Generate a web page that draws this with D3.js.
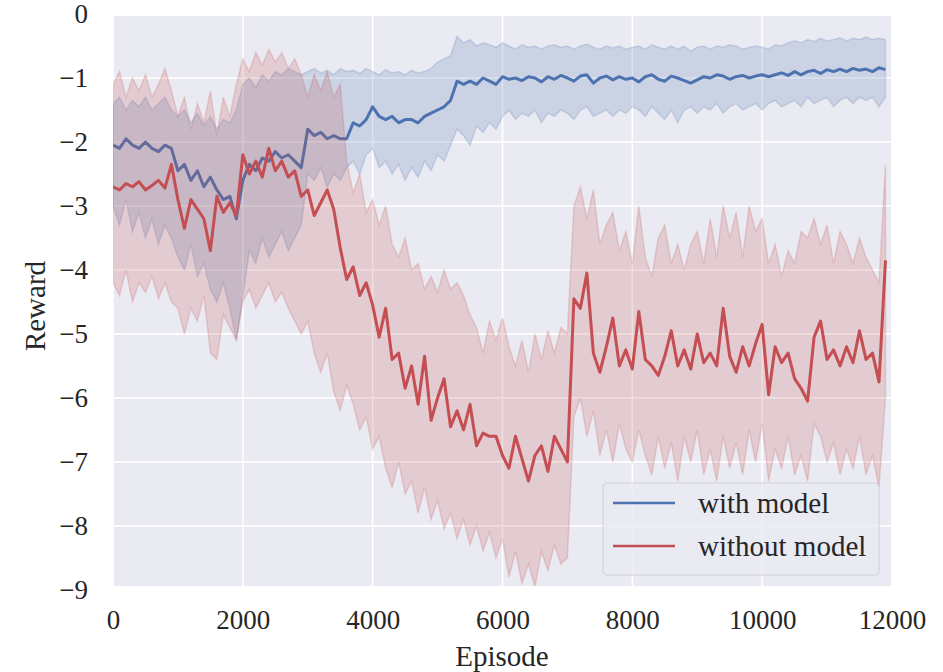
<!DOCTYPE html>
<html><head><meta charset="utf-8">
<script src="https://cdn.jsdelivr.net/npm/d3@7"></script>
<style>body{margin:0;background:#fff}svg{display:block}text{font-family:"Liberation Serif","Times New Roman",serif;fill:#262626}</style>
</head><body>
<svg id="c" width="943" height="672"></svg>
<script>
// Episodes sampled every 100
const episodes = d3.range(0, 12000, 100);
const xTicks = [0, 2000, 4000, 6000, 8000, 10000, 12000];
const yTicks = [0, -1, -2, -3, -4, -5, -6, -7, -8, -9];
const seriesNames = ["with model", "without model"];

const withMean = [-2.05,-2.1,-1.95,-2.05,-2.1,-2.0,-2.1,-2.15,-2.05,-2.1,-2.45,-2.35,-2.6,-2.45,-2.7,-2.55,-2.75,-2.9,-2.85,-3.2,-2.6,-2.35,-2.45,-2.25,-2.3,-2.15,-2.25,-2.2,-2.3,-2.4,-1.8,-1.9,-1.85,-1.95,-1.9,-1.95,-1.95,-1.7,-1.75,-1.65,-1.45,-1.6,-1.65,-1.6,-1.7,-1.65,-1.65,-1.7,-1.6,-1.55,-1.5,-1.45,-1.35,-1.05,-1.1,-1.05,-1.1,-1.0,-1.05,-1.1,-0.98,-1.02,-1.0,-1.04,-0.98,-1.0,-1.06,-0.98,-1.02,-0.96,-1.0,-1.05,-0.97,-0.95,-1.08,-1.0,-0.97,-1.03,-0.98,-1.02,-1.0,-1.06,-0.98,-0.95,-1.02,-1.05,-0.97,-1.0,-1.04,-1.08,-1.03,-0.98,-1.0,-0.95,-0.97,-1.02,-0.98,-0.96,-1.0,-0.97,-0.95,-0.98,-0.95,-0.92,-0.96,-0.9,-0.95,-0.9,-0.88,-0.93,-0.87,-0.9,-0.86,-0.9,-0.85,-0.88,-0.86,-0.9,-0.84,-0.87];
const withUpper = [-1.4,-1.3,-1.5,-1.35,-1.45,-1.3,-1.5,-1.4,-1.3,-1.5,-1.6,-1.5,-1.7,-1.55,-1.75,-1.6,-1.8,-1.65,-1.7,-1.5,-1.1,-1.0,-1.15,-0.95,-1.05,-0.9,-0.95,-0.85,-0.9,-0.95,-0.9,-0.85,-0.92,-0.88,-0.95,-0.85,-0.9,-0.88,-0.93,-0.85,-0.9,-0.95,-0.87,-0.92,-0.9,-0.95,-0.88,-0.92,-0.9,-0.85,-0.75,-0.7,-0.65,-0.35,-0.45,-0.4,-0.5,-0.45,-0.48,-0.52,-0.45,-0.5,-0.55,-0.48,-0.52,-0.5,-0.55,-0.5,-0.48,-0.52,-0.5,-0.55,-0.5,-0.47,-0.52,-0.55,-0.5,-0.53,-0.5,-0.55,-0.52,-0.5,-0.55,-0.48,-0.52,-0.55,-0.5,-0.55,-0.5,-0.58,-0.52,-0.5,-0.55,-0.5,-0.52,-0.48,-0.5,-0.55,-0.52,-0.5,-0.52,-0.55,-0.48,-0.5,-0.45,-0.42,-0.45,-0.4,-0.43,-0.38,-0.42,-0.4,-0.37,-0.42,-0.38,-0.4,-0.36,-0.4,-0.38,-0.4];
const withLower = [-3.0,-3.3,-2.9,-3.4,-3.1,-3.5,-3.2,-3.6,-3.3,-3.5,-3.8,-4.0,-3.6,-4.1,-3.9,-4.3,-4.5,-4.2,-4.6,-5.1,-4.4,-3.7,-3.9,-3.5,-3.8,-3.6,-3.4,-3.7,-3.5,-3.3,-2.5,-2.6,-2.4,-2.7,-2.5,-2.6,-2.4,-2.3,-2.5,-2.2,-2.1,-2.4,-2.3,-2.5,-2.35,-2.6,-2.4,-2.55,-2.3,-2.45,-2.2,-2.3,-2.05,-1.8,-1.9,-2.05,-1.75,-1.85,-1.7,-1.8,-1.6,-1.5,-1.65,-1.55,-1.6,-1.5,-1.7,-1.55,-1.6,-1.5,-1.55,-1.65,-1.5,-1.45,-1.6,-1.55,-1.5,-1.6,-1.5,-1.55,-1.45,-1.5,-1.6,-1.45,-1.55,-1.65,-1.5,-1.7,-1.5,-1.45,-1.55,-1.45,-1.5,-1.4,-1.55,-1.45,-1.4,-1.5,-1.45,-1.4,-1.5,-1.4,-1.35,-1.45,-1.4,-1.35,-1.45,-1.3,-1.4,-1.35,-1.3,-1.45,-1.35,-1.3,-1.4,-1.3,-1.35,-1.3,-1.45,-1.3];

const withoutMean = [-2.7,-2.75,-2.65,-2.7,-2.62,-2.75,-2.68,-2.6,-2.72,-2.35,-2.9,-3.35,-2.9,-3.05,-3.2,-3.7,-2.85,-3.1,-2.95,-3.15,-2.2,-2.5,-2.3,-2.55,-2.1,-2.45,-2.3,-2.55,-2.45,-2.85,-2.75,-3.15,-2.95,-2.75,-3.05,-3.65,-4.15,-3.95,-4.4,-4.2,-4.55,-5.05,-4.6,-5.4,-5.3,-5.85,-5.5,-6.1,-5.35,-6.35,-6.0,-5.7,-6.45,-6.2,-6.5,-6.1,-6.75,-6.55,-6.6,-6.6,-6.9,-7.1,-6.6,-6.95,-7.3,-6.9,-6.75,-7.15,-6.6,-6.8,-7.0,-4.45,-4.6,-4.05,-5.3,-5.6,-5.2,-4.75,-5.5,-5.25,-5.55,-4.65,-5.4,-5.5,-5.65,-5.35,-4.95,-5.5,-5.25,-5.55,-5.0,-5.45,-5.3,-5.5,-4.6,-5.35,-5.6,-5.2,-5.5,-5.15,-4.85,-5.95,-5.2,-5.45,-5.3,-5.7,-5.85,-6.05,-5.05,-4.8,-5.4,-5.25,-5.5,-5.2,-5.45,-4.95,-5.4,-5.3,-5.75,-3.85];
const withoutUpper = [-1.1,-0.9,-1.3,-1.0,-1.2,-0.95,-1.3,-1.1,-0.85,-1.2,-1.6,-1.3,-1.8,-1.4,-1.7,-1.2,-1.9,-1.3,-1.6,-1.1,-0.7,-0.9,-0.6,-0.8,-0.55,-0.75,-0.6,-0.85,-0.7,-0.95,-1.3,-0.95,-1.2,-0.9,-1.3,-1.1,-2.3,-2.8,-2.5,-3.1,-2.9,-3.3,-3.0,-3.6,-3.8,-3.5,-4.0,-3.9,-4.3,-4.1,-4.35,-4.0,-4.3,-4.2,-4.4,-4.7,-4.9,-5.3,-4.8,-5.1,-4.75,-5.2,-5.5,-5.1,-5.6,-5.0,-5.4,-4.95,-5.3,-4.9,-5.0,-3.0,-2.7,-3.2,-2.75,-3.6,-3.3,-3.1,-3.7,-3.4,-3.9,-3.0,-3.8,-4.1,-3.5,-3.3,-3.9,-3.6,-4.0,-3.6,-3.4,-3.9,-3.2,-3.8,-3.0,-3.5,-3.1,-3.8,-3.0,-3.4,-3.2,-3.9,-3.6,-4.1,-3.7,-3.9,-3.4,-3.5,-3.2,-3.6,-3.3,-3.9,-3.4,-3.6,-3.9,-3.5,-3.8,-4.0,-4.2,-2.35];
const withoutLower = [-4.2,-4.4,-4.0,-4.5,-4.2,-4.35,-4.1,-4.45,-4.2,-4.5,-4.6,-5.0,-4.6,-4.8,-4.4,-5.3,-5.4,-4.7,-4.9,-5.1,-4.5,-4.3,-4.6,-4.4,-4.2,-4.5,-4.35,-4.6,-4.8,-5.0,-4.8,-5.3,-5.6,-5.3,-5.9,-6.2,-5.8,-6.1,-6.5,-6.3,-6.8,-6.6,-7.1,-7.4,-7.0,-7.5,-7.3,-7.8,-7.4,-7.9,-7.6,-8.05,-7.8,-8.2,-7.9,-8.3,-8.0,-8.4,-8.1,-8.5,-8.2,-8.8,-8.4,-8.9,-8.6,-8.95,-8.4,-8.7,-8.3,-8.6,-8.5,-6.3,-6.0,-6.6,-6.2,-6.9,-6.5,-7.0,-6.4,-6.8,-7.0,-6.5,-6.9,-7.2,-6.6,-7.1,-6.7,-7.3,-6.6,-7.0,-6.5,-7.2,-6.8,-7.3,-6.6,-7.1,-6.7,-7.2,-6.5,-7.0,-6.4,-7.3,-6.8,-7.1,-6.6,-7.2,-6.9,-7.3,-6.4,-6.6,-7.0,-6.7,-7.2,-6.8,-7.1,-6.6,-7.2,-6.9,-7.4,-6.0];

const colors = ["#4C72B0", "#C44E52"];
const svg = d3.select("#c");
const L = 113, R = 891, T = 16, B = 586;
const x = d3.scaleLinear().domain([0, 11985]).range([L, R]);
const y = d3.scaleLinear().domain([-0.031, -8.94]).range([T, B]);

svg.append("rect").attr("x", L).attr("y", T).attr("width", R - L).attr("height", B - T).attr("fill", "#eaeaf2");
svg.append("clipPath").attr("id", "pc").append("rect").attr("x", L).attr("y", T).attr("width", R - L).attr("height", B - T);

const grid = svg.append("g");
grid.selectAll(".gx").data(xTicks).join("line").attr("x1", d => x(d)).attr("x2", d => x(d)).attr("y1", T).attr("y2", B).attr("stroke", "#fff").attr("stroke-width", 1.6);
grid.selectAll(".gy").data(yTicks).join("line").attr("x1", L).attr("x2", R).attr("y1", d => y(d)).attr("y2", d => y(d)).attr("stroke", "#fff").attr("stroke-width", 1.6).attr("clip-path", "url(#pc)");

const plot = svg.append("g").attr("clip-path", "url(#pc)");
const series = [
  {mean: withMean, up: withUpper, lo: withLower},
  {mean: withoutMean, up: withoutUpper, lo: withoutLower}
];
series.forEach((s, i) => {
  const pts = episodes.map((e, k) => ({e, m: s.mean[k], u: s.up[k], l: s.lo[k]}));
  plot.append("path").datum(pts)
    .attr("d", d3.area().x(d => x(d.e)).y0(d => y(d.l)).y1(d => y(d.u)))
    .attr("fill", colors[i]).attr("fill-opacity", 0.2)
    .attr("stroke", colors[i]).attr("stroke-opacity", 0.2).attr("stroke-width", 1.5);
  plot.append("path").datum(pts)
    .attr("d", d3.line().x(d => x(d.e)).y(d => y(d.m)))
    .attr("fill", "none").attr("stroke", colors[i]).attr("stroke-width", 3).attr("stroke-linejoin", "round");
});

// axes
const fs = 27, fl = 29;
const xa = svg.append("g").attr("transform", `translate(0,${B})`)
  .call(d3.axisBottom(x).tickValues(xTicks).tickSize(0).tickPadding(24).tickFormat(d3.format("d")));
xa.select(".domain").remove();
xa.selectAll("text").attr("font-size", fs).attr("fill", "#262626").attr("font-family", "Liberation Serif");
const ya = svg.append("g").attr("transform", `translate(${L},0)`)
  .call(d3.axisLeft(y).tickValues(yTicks).tickSize(0).tickPadding(25).tickFormat(d => d === 0 ? "0" : "\u2212" + Math.abs(d)));
ya.select(".domain").remove();
ya.selectAll("text").attr("font-size", fs).attr("fill", "#262626").attr("font-family", "Liberation Serif");

svg.append("text").attr("x", (L + R) / 2).attr("y", 666).attr("text-anchor", "middle").attr("font-size", fl).text("Episode");
svg.append("text").attr("transform", "translate(45,306) rotate(-90)").attr("text-anchor", "middle").attr("font-size", fl).text("Reward");

// legend
const lg = svg.append("g");
lg.append("rect").attr("x", 603).attr("y", 483).attr("width", 276).attr("height", 92).attr("rx", 4)
  .attr("fill", "#eaeaf2").attr("fill-opacity", 0.8).attr("stroke", "#d0d0d8").attr("stroke-width", 1);
seriesNames.forEach((n, i) => {
  const yy = 503 + i * 43;
  lg.append("line").attr("x1", 613).attr("x2", 675).attr("y1", yy).attr("y2", yy).attr("stroke", colors[i]).attr("stroke-width", 2.6);
  lg.append("text").attr("x", 698).attr("y", yy + 10).attr("font-size", fl).text(n);
});
</script>
</body></html>
